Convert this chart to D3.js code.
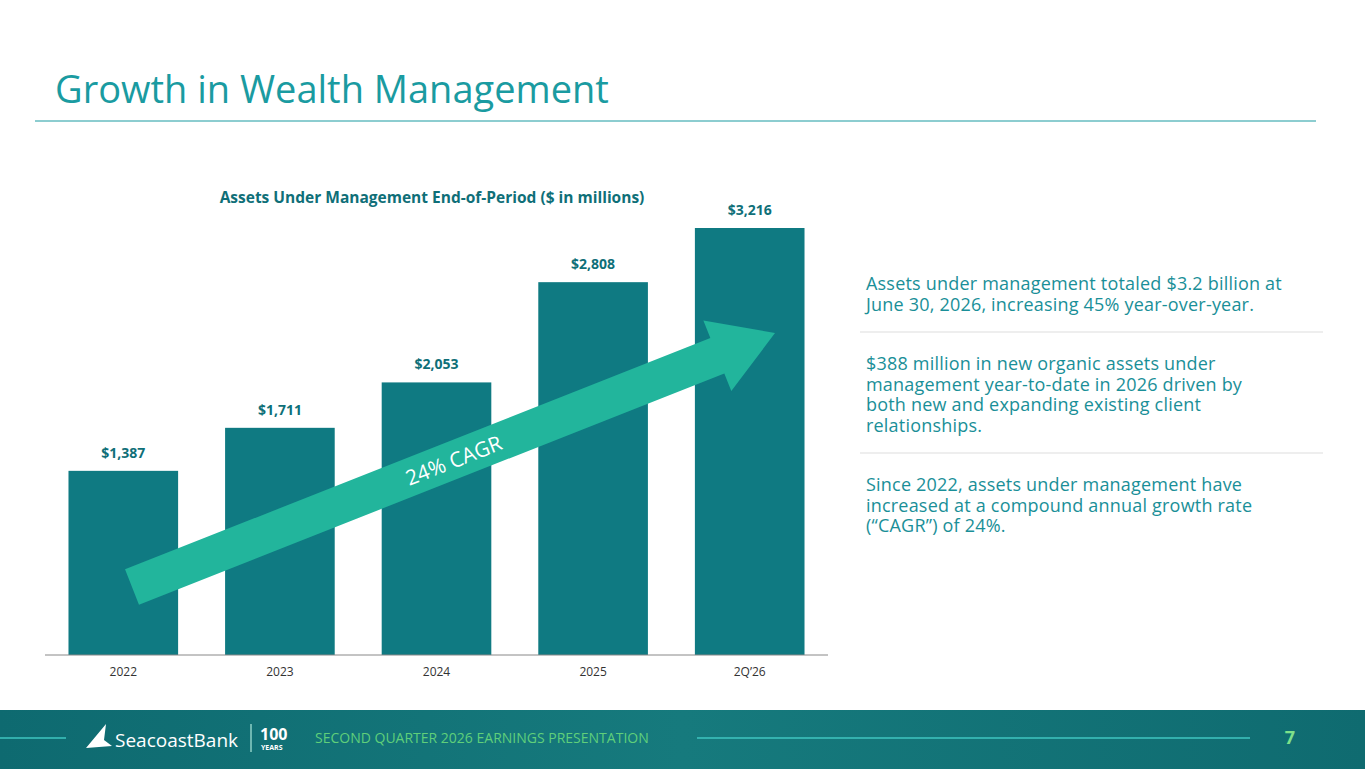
<!DOCTYPE html>
<html><head><meta charset="utf-8">
<script src="https://cdn.jsdelivr.net/npm/d3@7"></script>
<style>body{margin:0;background:#fff;font-family:Calibri,"Open Sans",sans-serif}</style>
</head><body><svg id="c" width="1365" height="769"></svg>
<script>
const categories = ["2022", "2023", "2024", "2025", "2Q’26"];
const values = [1387, 1711, 2053, 2808, 3216];
const bullets = [
  ["Assets under management totaled $3.2 billion at", "June 30, 2026, increasing 45% year-over-year."],
  ["$388 million in new organic assets under", "management year-to-date in 2026 driven by", "both new and expanding existing client", "relationships."],
  ["Since 2022, assets under management have", "increased at a compound annual growth rate", "(“CAGR”) of 24%."]
];

const svg = d3.select("#c");
const font = "'Open Sans', sans-serif";

svg.append("text").attr("x", 55).attr("y", 103).attr("fill", "#1a9ba1")
  .style("font-family", font).style("font-size", "38px").text("Growth in Wealth Management");
svg.append("line").attr("x1", 35).attr("x2", 1316).attr("y1", 121).attr("y2", 121)
  .attr("stroke", "#1a9ba1").attr("stroke-width", 1);

svg.append("text").attr("x", 432).attr("y", 203).attr("text-anchor", "middle").attr("fill", "#0f6f78")
  .style("font-family", font).style("font-size", "15.5px").style("font-weight", "bold")
  .text("Assets Under Management End-of-Period ($ in millions)");

const x = d3.scaleBand().domain(categories).range([45, 828]).paddingInner(0.3).paddingOuter(0.15);
const y = d3.scaleLinear().domain([0, 3216]).range([655, 228]);

svg.selectAll("rect.bar").data(values).join("rect").attr("class", "bar")
  .attr("x", (d, i) => x(categories[i])).attr("width", x.bandwidth())
  .attr("y", d => y(d)).attr("height", d => y(0) - y(d)).attr("fill", "#0f7a82");

svg.selectAll("text.lab").data(values).join("text").attr("class", "lab")
  .attr("x", (d, i) => x(categories[i]) + x.bandwidth() / 2).attr("y", d => y(d) - 13)
  .attr("text-anchor", "middle").attr("fill", "#0f6f78")
  .style("font-family", font).style("font-size", "14px").style("font-weight", "bold")
  .text(d => "$" + d3.format(",")(d));

const ax = svg.append("g").attr("transform", "translate(0,655)")
  .call(d3.axisBottom(x).tickSize(0).tickPadding(12));
ax.select(".domain").attr("stroke", "#888").attr("d", "M45,0H828");
ax.selectAll("text").style("font-family", font).style("font-size", "12px").attr("fill", "#333");

// CAGR arrow
const ang = Math.atan2(333 - 587, 775 - 132) * 180 / Math.PI;
const L = Math.hypot(775 - 132, 333 - 587);
const g = svg.append("g").attr("transform", `translate(132,587) rotate(${ang})`);
g.append("polygon").attr("fill", "#22b59c")
  .attr("points", [[0,-19],[L-62,-19],[L-62,-38],[L,0],[L-62,38],[L-62,19],[0,19]].join(" "));
g.append("text").attr("x", L * 0.5).attr("y", 8).attr("text-anchor", "middle").attr("fill", "#fff")
  .style("font-family", font).style("font-size", "21px").text("24% CAGR");

// bullets
let by = 290;
bullets.forEach((b, i) => {
  const t = svg.append("text").attr("fill", "#1a8f98").style("font-family", font)
    .style("font-size", "18px").style("letter-spacing", "0.2px");
  b.forEach((ln, j) => t.append("tspan").attr("x", 866).attr("y", by + j * 20.5).text(ln));
  by += b.length * 20.5;
  if (i < bullets.length - 1) {
    svg.append("line").attr("x1", 860).attr("x2", 1323).attr("y1", by + 1).attr("y2", by + 1)
      .attr("stroke", "#ddd");
    by += 39;
  }
});

// footer
const defs = svg.append("defs");
const gr = defs.append("linearGradient").attr("id", "fg");
gr.append("stop").attr("offset", "0").attr("stop-color", "#0e6a70");
gr.append("stop").attr("offset", "0.5").attr("stop-color", "#167a7d");
gr.append("stop").attr("offset", "1").attr("stop-color", "#0f6b70");
svg.append("rect").attr("x", 0).attr("y", 710).attr("width", 1365).attr("height", 59).attr("fill", "url(#fg)");
svg.append("line").attr("x1", 0).attr("x2", 66).attr("y1", 738).attr("y2", 738).attr("stroke", "#3fc6c0").attr("stroke-width", 1.5);
svg.append("line").attr("x1", 697).attr("x2", 1250).attr("y1", 738).attr("y2", 738).attr("stroke", "#3fc6c0").attr("stroke-width", 1.5);
svg.append("path").attr("d", "M86,748 L106,724 L104,740 L112,746 Z").attr("fill", "#fff");
svg.append("text").attr("x", 115).attr("y", 747).attr("fill", "#fff").style("font-family", font)
  .style("font-size", "19px").text("SeacoastBank");
svg.append("line").attr("x1", 251).attr("x2", 251).attr("y1", 724).attr("y2", 752).attr("stroke", "#cfe");
svg.append("text").attr("x", 260).attr("y", 740).attr("fill", "#fff").style("font-family", font)
  .style("font-size", "16px").style("font-weight", "bold").text("100");
svg.append("text").attr("x", 261).attr("y", 750).attr("fill", "#fff").style("font-family", font)
  .style("font-size", "7px").style("font-weight", "bold").text("YEARS");
svg.append("text").attr("x", 315).attr("y", 743).attr("fill", "#5fcf7a").style("font-family", font)
  .style("font-size", "14px").text("SECOND QUARTER 2026 EARNINGS PRESENTATION");
svg.append("text").attr("x", 1290).attr("y", 744).attr("text-anchor", "middle").attr("fill", "#7ee08a")
  .style("font-family", font).style("font-size", "18px").style("font-weight", "bold").text("7");
</script></body></html>
